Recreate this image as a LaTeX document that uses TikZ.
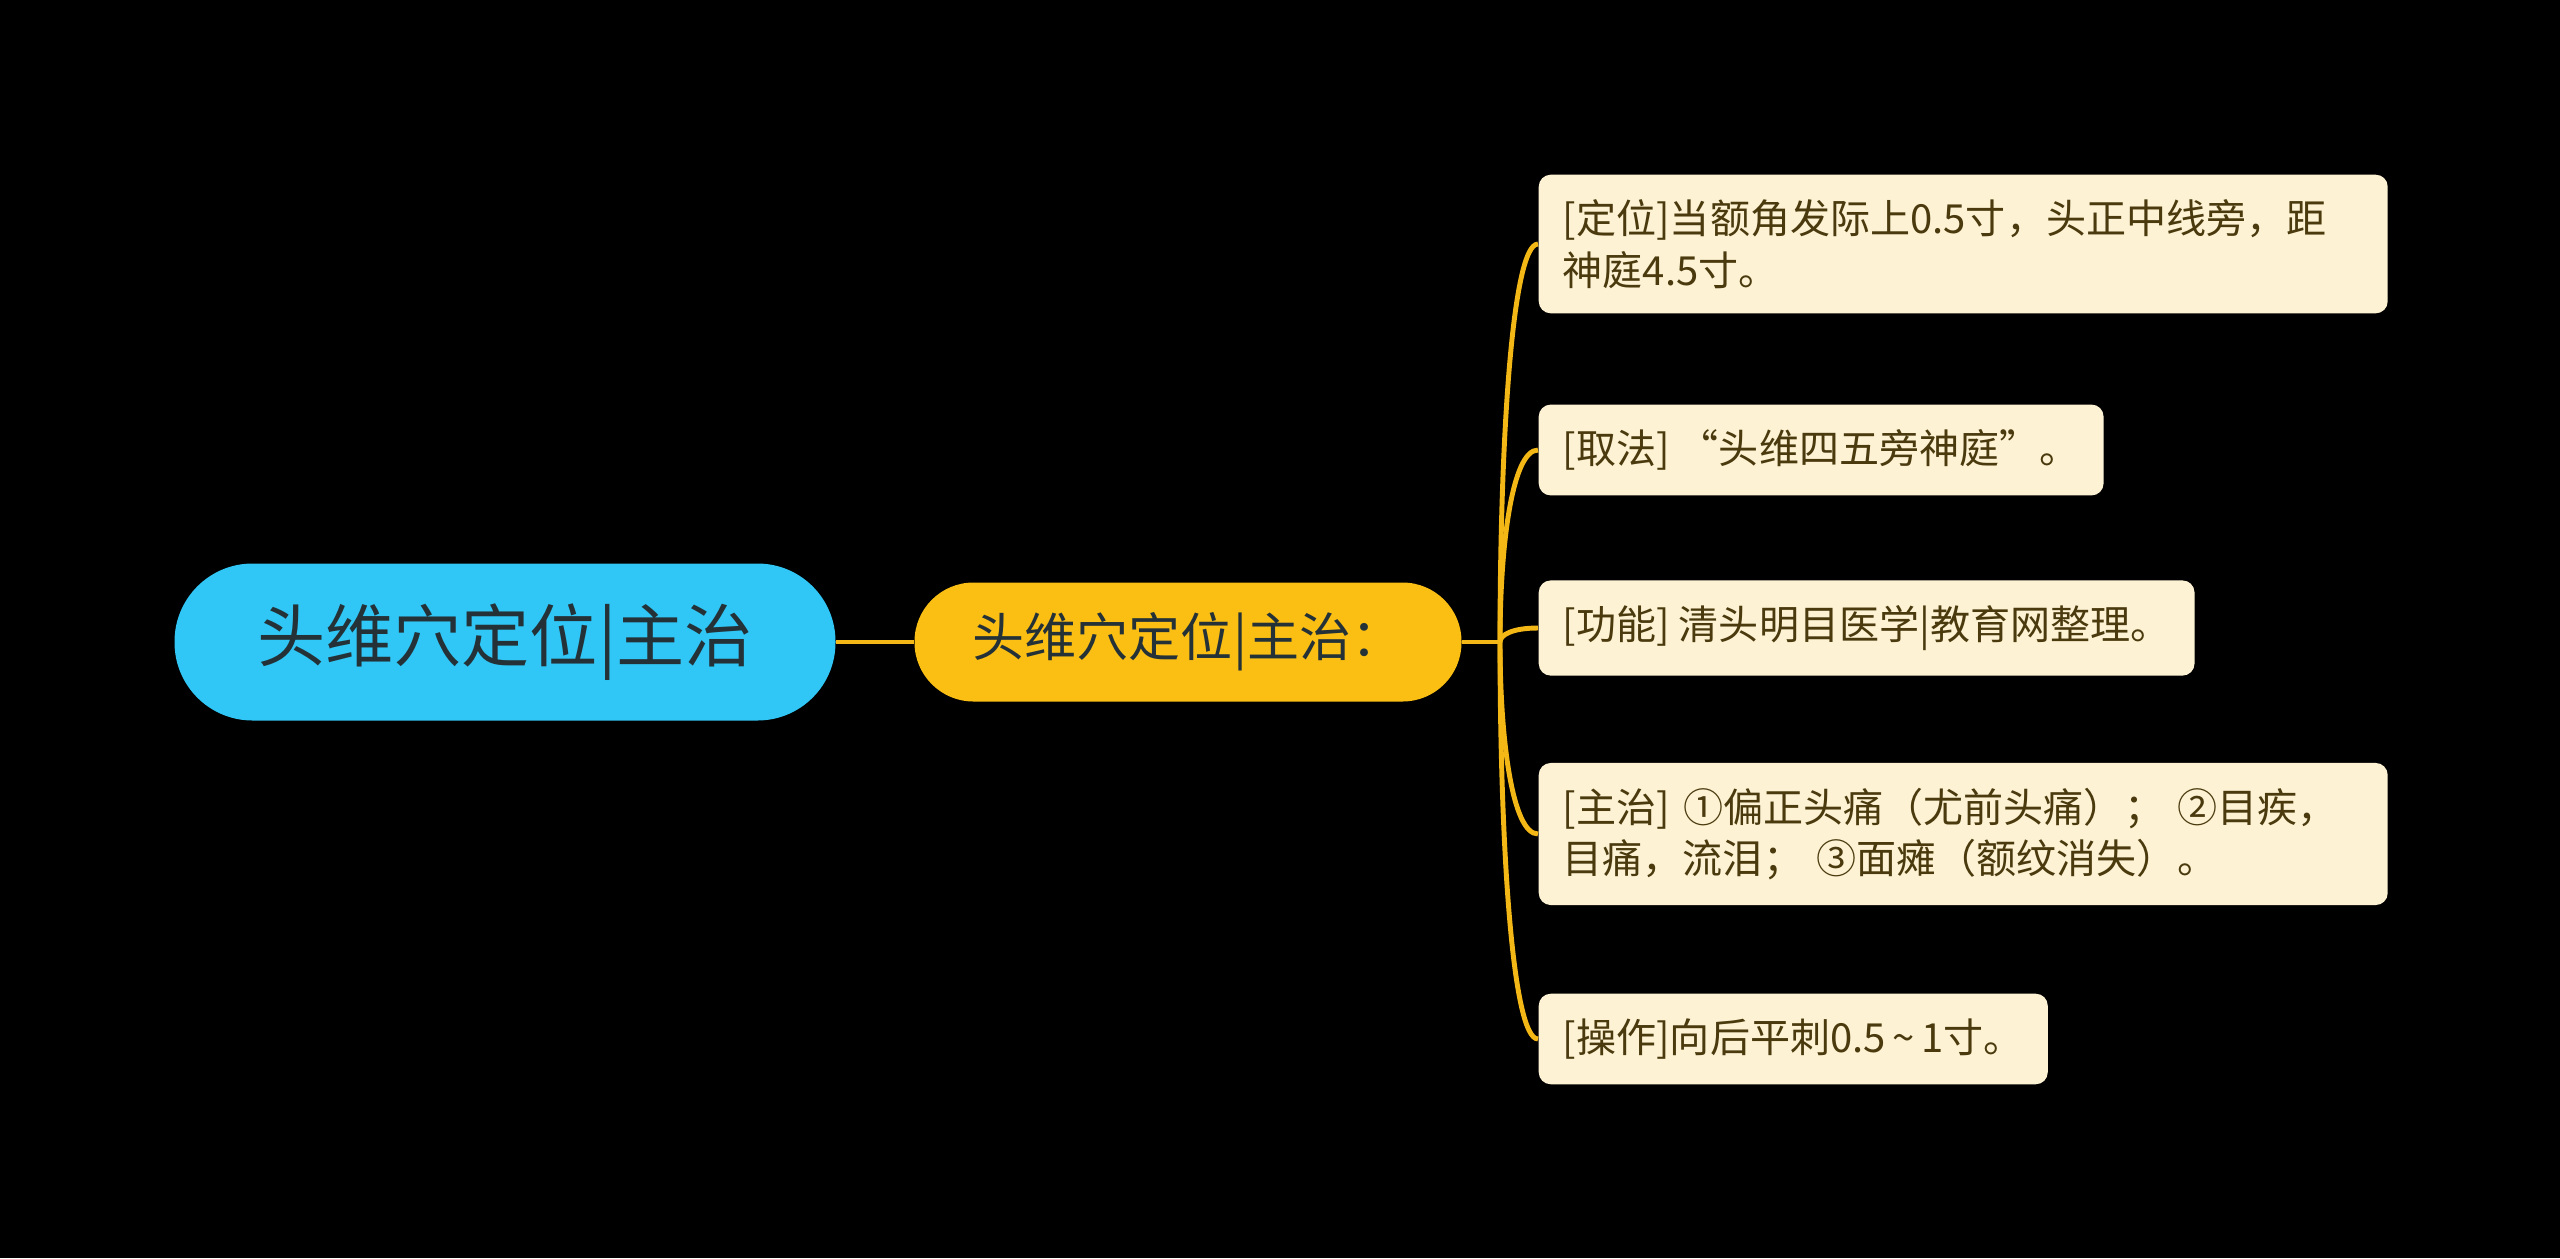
\documentclass[tikz,border=0pt]{standalone}
\usepackage{fontspec}
\setmainfont{Noto Sans CJK SC}
\usetikzlibrary{calc}
\definecolor{rootblue}{HTML}{30C6F5}
\definecolor{mainamber}{HTML}{FBBF14}
\definecolor{leafcream}{HTML}{FDF3D4}
\definecolor{leafink}{HTML}{4A3A0E}
\definecolor{rootink}{HTML}{243238}
\definecolor{linkamber}{HTML}{F4B816}
\tikzset{leaf/.style={fill=leafcream,text=leafink,rounded corners=0.12cm,anchor=west,align=left,
    inner xsep=0.24cm,inner ysep=0.25cm,minimum height=0.9cm,font=\fontsize{11.4pt}{14.6pt}\selectfont},
  link/.style={draw=linkamber,line width=1.4pt}}

\begin{document}
\begin{tikzpicture}[
  topic/.style={rounded corners=0.78cm,minimum width=6.61cm,minimum height=1.57cm,fill=rootblue,
    text=rootink,font=\fontsize{19.4pt}{23pt}\selectfont},
  sub/.style={rounded corners=0.59cm,minimum width=5.47cm,minimum height=1.19cm,fill=mainamber,
    text=rootink,font=\fontsize{14.8pt}{18pt}\selectfont}]
\fill[black] (0,0) rectangle (25.6,-12.58);
\node[topic] (root) at (5.05,-6.42) {头维穴定位|主治};
\node[sub] (main) at (11.88,-6.42) {头维穴定位|主治：};
\coordinate (trunk) at (15.0,-6.42);
\node[leaf,text width=8.01cm] (l1) at (15.38,-2.44) {[定位]当额角发际上0.5寸，头正中线旁，距\\神庭4.5寸。};
\node[leaf] (l2) at (15.38,-4.50) {[取法] “头维四五旁神庭”。};
\node[leaf] (l3) at (15.38,-6.28) {[功能] 清头明目医学|教育网整理。};
\node[leaf,text width=8.01cm] (l4) at (15.38,-8.34) {[主治] ①偏正头痛（尤前头痛）； ②目疾，\\目痛，流泪； ③面瘫（额纹消失）。};
\node[leaf] (l5) at (15.38,-10.39) {[操作]向后平刺0.5\,\textasciitilde\,1寸。};
\draw[link] (root.east) -- (main.west);
\draw[link] (main.east) -- (trunk);
\foreach \n in {l1,l2,l3,l4,l5}
  \draw[link] (trunk) .. controls ($(trunk)!0.5!(trunk |- \n.west)$) and ($(trunk |- \n.west)+(0.12,0)$) .. (\n.west);
\end{tikzpicture}
\end{document}
